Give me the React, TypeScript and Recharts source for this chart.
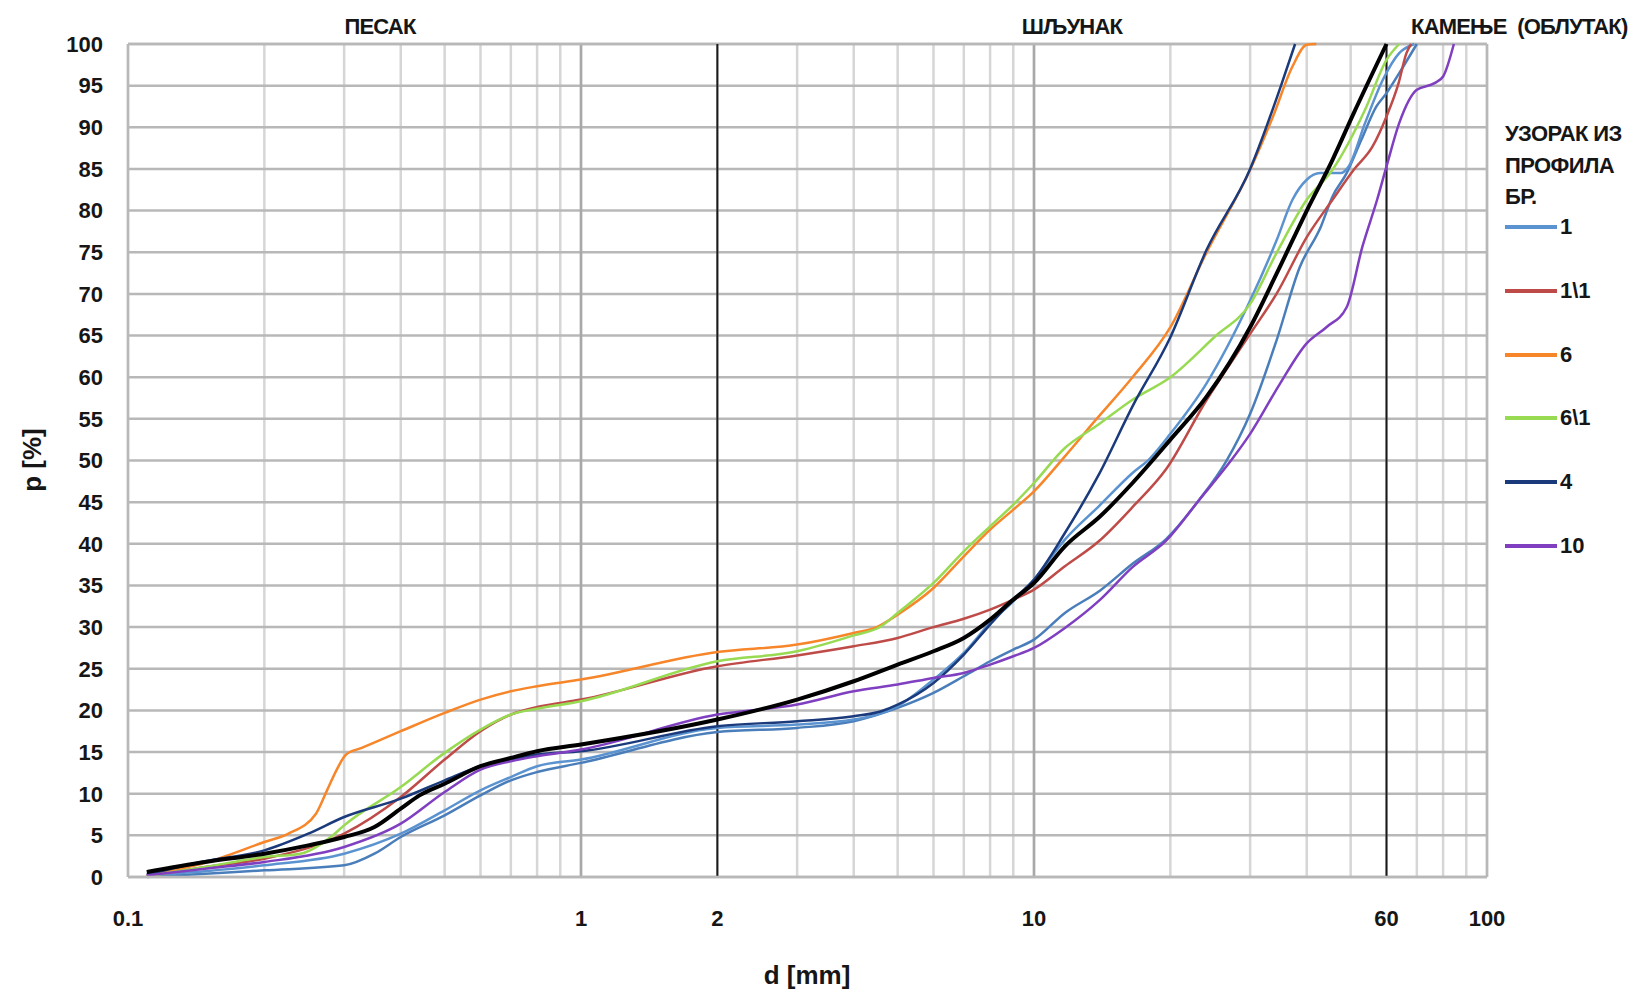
import { LineChart, Line, XAxis, YAxis, CartesianGrid, ReferenceLine } from "recharts";

const FONT = '"Liberation Sans", Arial, sans-serif';
const TXT = "#161616";

// x axis: log grid every minor step, labels only on a few
const xTicks = [0.1, 0.2, 0.3, 0.4, 0.5, 0.6, 0.7, 0.8, 0.9, 1, 2, 3, 4, 5, 6, 7, 8, 9, 10, 20, 30, 40, 50, 60, 70, 80, 90, 100];
const xLabels = [0.1, 1, 2, 10, 60, 100];
const yTicks = [0, 5, 10, 15, 20, 25, 30, 35, 40, 45, 50, 55, 60, 65, 70, 75, 80, 85, 90, 95, 100];

// узорак 1
const d1 = [0.11, 0.148, 0.2, 0.3, 0.4, 0.5, 0.6, 0.7, 0.8, 1, 2, 3, 4, 5, 6, 7, 8, 9, 10, 11.7, 13.9, 16.5, 18, 20, 24, 30, 34.3, 37.2, 40, 42.8, 47.5, 49.5, 53.8, 58.9, 64, 69.1];
const p1 = [0.2, 0.7, 1.4, 2.8, 5.2, 8, 10.4, 12, 13.3, 14.1, 17.9, 18.3, 18.9, 20.5, 23.7, 26.9, 30.5, 33.1, 35.7, 40.5, 44.5, 48.5, 50.2, 53.2, 59.2, 69.2, 76.4, 81.3, 83.7, 84.5, 84.5, 85.3, 90.5, 95.7, 98.9, 100];

// узорак 1\1
const d11 = [0.11, 0.148, 0.2, 0.3, 0.4, 0.5, 0.6, 0.7, 0.8, 1, 2, 3, 4, 5, 6, 7, 8, 9, 10, 11.7, 13.9, 16.5, 19.6, 24, 30, 34.3, 40.1, 45.6, 50.8, 55.9, 60, 63.8, 66.4, 68];
const p11 = [0.1, 1.2, 2.2, 5.2, 9.6, 14.1, 17.5, 19.5, 20.4, 21.3, 25.3, 26.6, 27.7, 28.7, 30, 31, 32.1, 33.3, 34.5, 37.3, 40.3, 44.4, 49, 57.2, 65.2, 70, 76.9, 81.3, 84.9, 87.7, 91.3, 95.3, 98.9, 100];

// узорак 6
const d6 = [0.11, 0.148, 0.2, 0.226, 0.26, 0.275, 0.289, 0.303, 0.328, 0.4, 0.5, 0.6, 0.7, 0.8, 1, 2, 3, 4, 4.5, 5, 6, 7, 8, 9, 10, 11.7, 13.7, 16.5, 20, 24, 30, 33.7, 37.2, 40, 42];
const p6 = [0.2, 1.7, 4.2, 5.2, 7.6, 10.4, 12.9, 14.7, 15.5, 17.5, 19.7, 21.3, 22.3, 22.9, 23.7, 27, 27.9, 29.3, 30, 31.5, 34.7, 38.5, 41.7, 44.1, 46.3, 50.5, 54.9, 60, 66, 74.9, 84.9, 91.3, 97.3, 99.9, 100];

// узорак 6\1
const d61 = [0.11, 0.148, 0.2, 0.24, 0.286, 0.3, 0.4, 0.5, 0.6, 0.7, 0.8, 1, 2, 3, 4, 4.6, 5, 6, 7, 8, 9, 10, 11.7, 13.7, 16.5, 20, 25, 30, 34.3, 40, 45.6, 53.8, 60, 64];
const p61 = [0.1, 1.2, 2.4, 2.8, 5.2, 6.2, 10.8, 14.9, 17.7, 19.5, 20.2, 21.1, 25.9, 27.1, 29, 30.1, 31.7, 35.3, 39.1, 42.1, 44.7, 47.3, 51.5, 54.1, 57.3, 60, 64.8, 68.8, 74.9, 81.3, 84.9, 92.1, 98.1, 100];

// узорак 4
const d4 = [0.11, 0.148, 0.2, 0.25, 0.3, 0.4, 0.5, 0.6, 0.7, 0.8, 1, 2, 3, 4, 4.6, 5, 6, 7, 8, 9, 10, 11.7, 13.9, 16.5, 20, 24, 30, 35.1, 37.7];
const p4 = [0.3, 1.9, 3.2, 5.2, 7.2, 9.4, 11.6, 13.3, 14.1, 14.7, 15.1, 18.1, 18.7, 19.3, 19.9, 20.7, 23.3, 26.7, 30.3, 33.3, 35.7, 41.3, 48.3, 56.5, 64.8, 75.2, 85, 95, 100];

// узорак 10
const d10 = [0.11, 0.148, 0.2, 0.3, 0.4, 0.5, 0.6, 0.7, 0.8, 1, 2, 3, 4, 5, 6, 7, 8, 9, 10, 11.7, 14, 16.5, 19.6, 23.1, 27.4, 30, 34.9, 39.9, 44.2, 49, 53.1, 57.2, 60, 64, 70, 76.6, 80, 84.5];
const p10 = [0.2, 1, 1.8, 3.6, 6.4, 10.2, 12.9, 13.9, 14.5, 15.3, 19.5, 20.7, 22.3, 23.1, 23.9, 24.5, 25.5, 26.5, 27.5, 29.9, 33.3, 37.2, 40.4, 45.2, 50.2, 53.2, 59.2, 64, 66, 68.4, 75.7, 81.3, 85.3, 90.5, 94.5, 95.3, 96.1, 100];

// unlabelled light blue
const dB = [0.11, 0.148, 0.2, 0.3, 0.35, 0.4, 0.5, 0.6, 0.7, 0.8, 1, 2, 3, 4, 5, 6, 7, 8, 9, 10, 11.7, 14, 16.5, 19.6, 23.1, 26.5, 30, 34.3, 38.6, 43, 45.6, 49, 52.8, 57, 60, 64, 70];
const pB = [0, 0.4, 0.8, 1.4, 2.8, 4.8, 7.4, 9.8, 11.6, 12.6, 13.7, 17.4, 17.9, 18.7, 20.3, 22.1, 24.1, 25.9, 27.3, 28.5, 31.7, 34.4, 37.6, 40.6, 45.2, 49.8, 55.6, 64.4, 73.2, 78.1, 81.7, 84.5, 88.5, 92.5, 94.1, 96.5, 100];

// black (average) curve
const dAvg = [0.11, 0.148, 0.2, 0.25, 0.3, 0.35, 0.4, 0.44, 0.5, 0.6, 0.7, 0.8, 1, 2, 3, 4, 5, 6, 7, 8, 9, 10, 11.7, 14, 16.5, 20, 24, 30, 34.3, 40.1, 45.6, 50.8, 60];
const pAvg = [0.6, 1.8, 2.8, 3.8, 4.8, 6, 8.2, 9.8, 11.2, 13.3, 14.3, 15.1, 15.9, 18.9, 21.3, 23.5, 25.5, 27.1, 28.7, 30.9, 33.3, 35.3, 39.7, 43.3, 47.3, 52.5, 57.6, 66, 72.4, 80.1, 86.1, 91.7, 100];

const pts = (d: number[], p: number[]) => d.map((v, i) => ({ d: v, p: p[i] }));

const series = [
  { key: "b", name: "", color: "#4A7EBB", w: 2.5, d: dB, p: pB },
  { key: "s1", name: "1", color: "#5B93D0", w: 2.5, d: d1, p: p1 },
  { key: "s11", name: "1\\1", color: "#BE4B48", w: 2.5, d: d11, p: p11 },
  { key: "s6", name: "6", color: "#F7862A", w: 2.5, d: d6, p: p6 },
  { key: "s61", name: "6\\1", color: "#98DA52", w: 2.5, d: d61, p: p61 },
  { key: "s4", name: "4", color: "#1B3A7C", w: 2.5, d: d4, p: p4 },
  { key: "s10", name: "10", color: "#7F3FC0", w: 2.5, d: d10, p: p10 },
  { key: "avg", name: "", color: "#000000", w: 4, d: dAvg, p: pAvg },
];

const legendOrder = ["s1", "s11", "s6", "s61", "s4", "s10"];

const tickStyle = { fill: TXT, fontSize: 22, fontWeight: 700, fontFamily: FONT };

function LegendBox() {
  const items = legendOrder.map((k) => series.find((s) => s.key === k)!);
  return (
    <div style={{ position: "absolute", left: 1505, top: 118, width: 150, height: 450, fontFamily: FONT, fontWeight: 700, fontSize: 22, color: TXT }}>
      <div style={{ position: "absolute", left: 0, top: 0, lineHeight: "31.5px", whiteSpace: "nowrap", letterSpacing: -0.6 }}>
        УЗОРАК ИЗ<br />ПРОФИЛА<br />БР.
      </div>
      {items.map((s, i) => (
        <div key={s.key} style={{ position: "absolute", left: 0, top: 97 + i * 63.8, display: "flex", alignItems: "center", height: 24 }}>
          <div style={{ width: 52, height: 4, background: s.color }} />
          <span style={{ marginLeft: 3 }}>{s.name}</span>
        </div>
      ))}
    </div>
  );
}

export default function App() {
  return (
    <div style={{ position: "absolute", left: 0, top: 0, width: 1652, height: 992, background: "#fff" }}>
      <LineChart width={1652} height={992} margin={{ top: 44, right: 165, bottom: 75, left: 88 }}>
        <CartesianGrid horizontal={false} stroke="#d6d6d6" strokeWidth={2.5} />
        <CartesianGrid vertical={false} stroke="#b8b8b8" strokeWidth={2.5} />
        <XAxis
          type="number"
          dataKey="d"
          scale="log"
          domain={[0.1, 100]}
          ticks={xTicks}
          interval={0}
          allowDataOverflow
          tickLine={false}
          axisLine={{ stroke: "#b8b8b8", strokeWidth: 2.5 }}
          tickMargin={27}
          height={40}
          tick={tickStyle}
          tickFormatter={(v: number) => (xLabels.includes(v) ? String(v) : "")}
        />
        <YAxis
          type="number"
          domain={[0, 100]}
          ticks={yTicks}
          interval={0}
          width={40}
          tickLine={false}
          axisLine={{ stroke: "#b8b8b8", strokeWidth: 2.5 }}
          tickMargin={19}
          tick={tickStyle}
        />
        <ReferenceLine x={1} stroke="#a8a8a8" strokeWidth={2.5} />
        <ReferenceLine x={10} stroke="#a8a8a8" strokeWidth={2.5} />
        <ReferenceLine x={100} stroke="#b8b8b8" strokeWidth={2.5} />
        <ReferenceLine y={100} stroke="#b8b8b8" strokeWidth={2.5} />
        <ReferenceLine x={2} stroke="#1a1a1a" strokeWidth={2} />
        <ReferenceLine x={60} stroke="#1a1a1a" strokeWidth={2} />
        {series.map((s) => (
          <Line
            key={s.key}
            data={pts(s.d, s.p)}
            dataKey="p"
            name={s.name}
            type="monotone"
            stroke={s.color}
            strokeWidth={s.w}
            dot={false}
            activeDot={false}
            isAnimationActive={false}
          />
        ))}
      </LineChart>
      <div style={{ position: "absolute", left: 0, top: 0, width: 1652, height: 992, pointerEvents: "none", fontFamily: FONT, fontWeight: 700, color: TXT }}>
        <div style={{ position: "absolute", left: 380, top: 14, transform: "translateX(-50%)", fontSize: 22, letterSpacing: -0.8 }}>ПЕСАК</div>
        <div style={{ position: "absolute", left: 1072, top: 14, transform: "translateX(-50%)", fontSize: 22, letterSpacing: -0.8 }}>ШЉУНАК</div>
        <div style={{ position: "absolute", left: 1411, top: 14, fontSize: 22, letterSpacing: -0.8, whiteSpace: "pre" }}>КАМЕЊЕ  (ОБЛУТАК)</div>
        <div style={{ position: "absolute", left: 32, top: 460, transform: "translate(-50%, -50%) rotate(-90deg)", fontSize: 26, whiteSpace: "nowrap" }}>p [%]</div>
        <div style={{ position: "absolute", left: 807, top: 975, transform: "translate(-50%, -50%)", fontSize: 26, whiteSpace: "nowrap" }}>d [mm]</div>
        <LegendBox />
      </div>
    </div>
  );
}
